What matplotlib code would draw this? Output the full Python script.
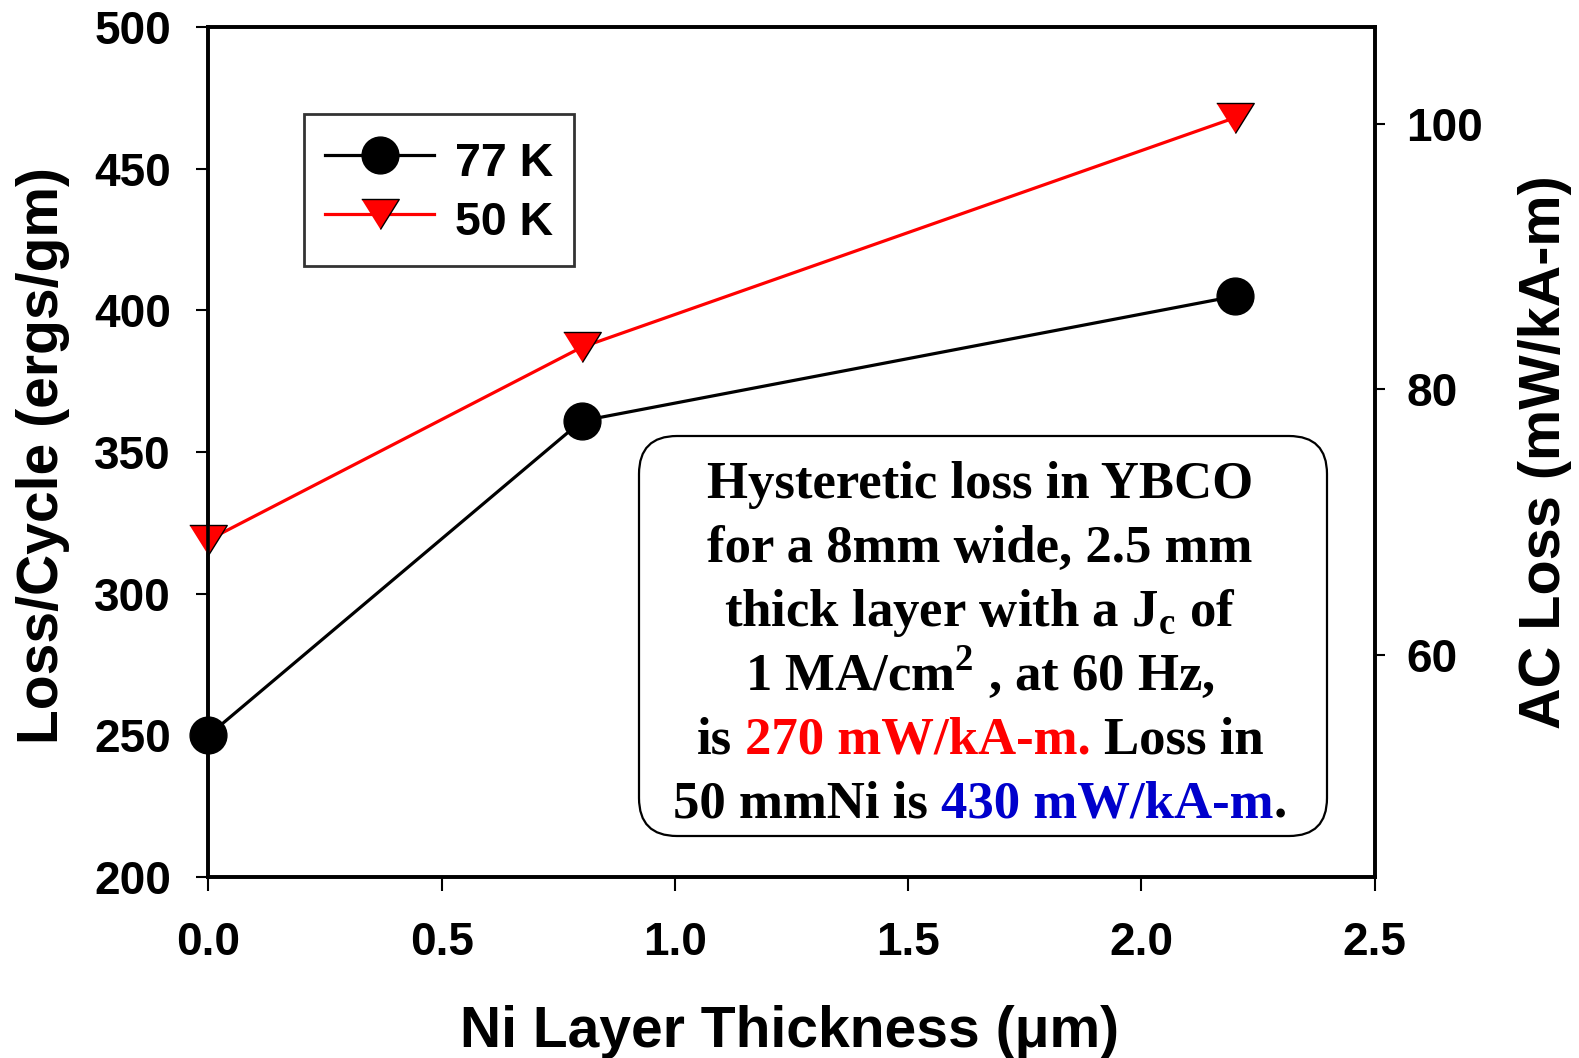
import matplotlib
matplotlib.use("Agg")
import matplotlib.pyplot as plt
from matplotlib.patches import FancyBboxPatch
from matplotlib.transforms import IdentityTransform

# Loss per cycle vs. Ni layer thickness
thickness = [0.0, 0.8, 2.2]
loss_77k = [250, 361, 405]
loss_50k = [319, 387, 468]
series_labels = ["77 K", "50 K"]

x_ticks = [0.0, 0.5, 1.0, 1.5, 2.0, 2.5]
x_tick_labels = ["0.0", "0.5", "1.0", "1.5", "2.0", "2.5"]
left_ticks = [200, 250, 300, 350, 400, 450, 500]
right_ticks = [60, 80, 100]

plt.rcParams["font.family"] = ["Liberation Sans", "DejaVu Sans"]
plt.rcParams["font.weight"] = "bold"
plt.rcParams["mathtext.fontset"] = "custom"
plt.rcParams["mathtext.rm"] = "Liberation Serif:bold"

W, H = 1579, 1058
fig = plt.figure(figsize=(W / 100, H / 100), dpi=100)
left_px, right_px, top_px, bottom_px = 208.5, 1374.5, 27.2, 877.0
ax = fig.add_axes([left_px / W, 1 - bottom_px / H,
                   (right_px - left_px) / W, (bottom_px - top_px) / H])

down_tri = [(-1, 0.8), (1, 0.8), (0, -0.8)]
ax.plot(thickness, loss_77k, color="black", lw=2.3, marker="o", ms=26.5,
        mfc="black", mec="black", label=series_labels[0], zorder=3,
        clip_on=False)
ax.plot(thickness, loss_50k, color="#ff0000", lw=2.3, marker=down_tri, ms=27,
        mfc="#ff0000", mec="black", mew=1.0, label=series_labels[1], zorder=3,
        clip_on=False)

ax.set_xlim(0, 2.5)
ax.set_ylim(200, 500)
ax.set_xticks(x_ticks)
ax.set_xticklabels(x_tick_labels)
ax.set_yticks(left_ticks)
ax.tick_params(axis="x", direction="out", length=10, width=1.5, pad=22,
               labelsize=33, top=False)
ax.tick_params(axis="y", direction="out", length=9, width=1.5, pad=18,
               labelsize=33, right=False)
for sp in ax.spines.values():
    sp.set_linewidth(2.6)

ax2 = ax.twinx()
ax2.set_ylim(43.24, 107.29)
ax2.set_yticks(right_ticks)
ax2.tick_params(axis="y", direction="out", length=7, width=1.5, pad=16,
                labelsize=33)
for sp in ax2.spines.values():
    sp.set_linewidth(2.6)

# Axis titles
fig.text(790 / W, 1 - 1047 / H, "Ni Layer Thickness (\u03bcm)", fontsize=41,
         fontweight="bold", ha="center", va="baseline")
fig.text(58 / W, 1 - 455 / H, "Loss/Cycle (ergs/gm)", fontsize=41,
         fontweight="bold", rotation=90, rotation_mode="anchor",
         ha="center", va="baseline")
fig.text(1560 / W, 1 - 452 / H, "AC Loss (mW/kA-m)", fontsize=41.5,
         fontweight="bold", rotation=90, rotation_mode="anchor",
         ha="center", va="baseline")

# Legend
leg = ax.legend(loc="upper left",
                bbox_to_anchor=((304 - left_px) / (right_px - left_px),
                                (bottom_px - 114) / (bottom_px - top_px)),
                borderaxespad=0, fontsize=33.5, handlelength=2.35,
                handleheight=1.3, handletextpad=0.45, borderpad=0.45,
                labelspacing=0.17, numpoints=1, fancybox=False, framealpha=1)
leg.get_frame().set_edgecolor("#333333")
leg.get_frame().set_linewidth(2.0)
for t in leg.get_texts():
    t.set_fontweight("bold")

# Note box
box = FancyBboxPatch((639, H - 836), 688, 400,
                     boxstyle="round,pad=0,rounding_size=38",
                     transform=IdentityTransform(), facecolor="white",
                     edgecolor="black", linewidth=1.6, zorder=5)
fig.add_artist(box)

note_font = dict(family=["Liberation Serif", "DejaVu Serif"],
                 weight="bold", size=38)
center_x = 980
baselines = [498, 562, 626, 689, 753, 817]
note_lines = [
    [("Hysteretic loss in YBCO", "black")],
    [("for a 8mm wide, 2.5 mm", "black")],
    [(r"thick layer with a J$_\mathregular{c}$ of", "black")],
    [(r"1 MA/cm$^\mathregular{2}$ , at 60 Hz,", "black")],
    [("is", "black"), (" ", None), ("270 mW/kA-m.", "#ff0000"), (" ", None),
     ("Loss in", "black")],
    [("50 mmNi is", "black"), (" ", None), ("430 mW/kA-m", "#0000cc"),
     (".", "black")],
]

renderer = fig.canvas.get_renderer()
space_px = 0.25 * 38 * 100 / 72
for base, parts in zip(baselines, note_lines):
    texts = []
    widths = []
    for s, c in parts:
        if c is None:
            texts.append(None)
            widths.append(space_px)
            continue
        t = fig.text(0, 1 - base / H, s, color=c, ha="left", va="baseline",
                     fontdict=note_font, zorder=6)
        texts.append(t)
        widths.append(t.get_window_extent(renderer).width)
    x = center_x - sum(widths) / 2
    for t, w in zip(texts, widths):
        if t is not None:
            t.set_x(x / W)
        x += w

fig.savefig("out.png", dpi=100)
